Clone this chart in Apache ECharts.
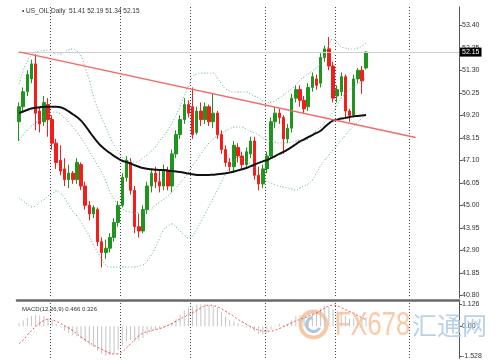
<!DOCTYPE html>
<html><head><meta charset="utf-8">
<script src="https://cdn.jsdelivr.net/npm/echarts@6/dist/echarts.min.js"></script>
<style>html,body{margin:0;padding:0;background:#fff}#c{width:500px;height:360px}</style>
</head><body><div id="c"></div>
<script>
const SLOTS = 107;
const categories = Array.from({length: SLOTS}, (_, i) => String(i));
// [open, close, low, high]
const candles = [
[48.9,49.6,48.0,49.8],[49.6,50.3,49.4,50.5],[50.3,51.1,50.1,51.3],[50.9,51.6,50.7,51.8],[51.6,49.3,48.5,52.05],
[49.4,48.8,48.4,49.6],[48.9,49.8,48.7,50.1],[49.7,49.0,48.2,50.0],[49.0,47.9,47.6,49.2],[47.9,47.0,46.7,48.1],
[47.1,46.6,46.4,47.8],[46.7,46.2,45.9,47.2],[46.2,46.5,45.8,46.9],[46.5,46.2,46.0,46.6],[46.2,47.0,46.0,47.2],
[46.9,45.9,45.7,47.0],[45.9,45.0,44.8,46.1],[45.0,44.6,44.3,45.2],[44.6,44.9,44.4,45.0],[44.8,43.3,43.1,44.9],
[43.3,42.8,42.1,43.5],[42.8,43.0,42.5,43.4],[43.0,43.5,42.8,43.7],[43.5,44.2,43.3,44.4],[44.2,45.0,44.0,45.2],
[45.0,46.3,44.9,46.5],[46.3,47.1,46.1,47.3],[47.0,45.7,45.5,47.2],[45.7,44.0,43.7,45.9],[44.0,43.8,43.5,44.6],
[43.8,44.8,43.7,45.0],[44.8,45.9,44.6,46.1],[45.9,46.5,45.6,46.7],[46.5,46.1,45.8,46.8],[46.1,45.9,45.6,46.6],
[45.9,46.6,45.7,46.9],[46.6,45.9,45.7,46.8],[45.9,47.4,45.6,47.6],[47.4,48.3,47.2,48.5],[48.3,49.0,48.1,49.2],
[49.0,49.7,48.8,50.0],[49.7,49.3,49.1,49.9],[49.6,48.3,48.1,50.5],[48.4,49.4,48.3,49.6],[49.4,49.0,48.7,49.8],
[49.0,49.6,48.8,49.8],[49.6,48.9,48.7,49.7],[48.9,49.3,48.6,50.2],[49.3,48.3,48.1,49.4],[48.3,47.6,47.4,48.5],
[47.6,47.0,46.8,47.8],[47.0,46.8,46.6,47.2],[46.8,47.8,46.5,48.0],[47.7,47.3,47.0,47.9],[47.3,46.9,46.7,47.5],
[46.9,47.5,46.7,47.7],[47.4,48.0,47.2,48.2],[48.0,46.4,46.2,48.2],[46.4,46.0,45.7,46.8],[46.0,46.7,45.8,46.9],
[46.7,47.3,46.5,47.5],[47.3,48.9,47.2,49.1],[48.9,49.3,48.6,49.6],[49.3,49.1,48.8,49.5],[49.1,48.1,47.4,49.2],
[48.1,48.6,47.9,48.8],[48.6,50.0,48.4,50.2],[50.0,50.4,49.8,50.6],[50.4,49.9,49.6,50.6],[49.9,49.5,49.3,50.1],
[49.6,50.5,49.4,50.7],[50.5,51.0,50.3,51.2],[50.9,50.6,50.4,51.1],[50.7,51.9,50.5,52.1],[51.9,52.3,51.7,52.45],
[52.3,51.5,51.3,52.85],[51.5,50.0,49.8,51.7],[50.1,50.4,49.8,50.6],[50.3,51.0,50.1,51.2],[51.0,49.4,49.1,51.1],
[49.4,49.2,48.9,49.5],[49.2,50.9,49.1,51.1],[50.9,51.3,50.7,51.4],[51.3,50.8,50.2,51.5],[51.41,52.15,51.34,52.19]
];
const ma = [49.30,49.38,49.45,49.52,49.55,49.58,49.60,49.60,49.60,49.60,49.58,49.50,49.38,49.25,49.12,48.95,48.72,48.45,48.19,47.95,
47.74,47.58,47.44,47.30,47.18,47.08,47.02,46.95,46.87,46.80,46.74,46.71,46.68,46.66,46.65,46.65,46.63,46.60,46.58,46.55,
46.52,46.48,46.45,46.42,46.41,46.41,46.42,46.43,46.45,46.47,46.50,46.53,46.58,46.63,46.68,46.74,46.82,46.90,46.98,47.05,
47.11,47.20,47.30,47.40,47.49,47.60,47.72,47.85,47.98,48.08,48.18,48.28,48.38,48.48,48.65,48.82,48.95,49.00,49.05,49.08,
49.12,49.15,49.17,49.19,49.21];
const bbUpper = [50.66,51.27,51.73,52.01,52.15,52.20,52.22,52.25,52.15,52.06,52.06,52.15,52.25,52.29,52.20,51.97,51.41,50.85,50.10,49.54,
49.07,48.65,48.19,47.81,47.53,47.25,47.11,47.07,47.02,47.07,47.21,47.35,47.53,47.72,48.00,48.23,48.51,48.84,49.21,49.63,
50.10,50.57,50.99,51.13,51.17,51.17,51.17,51.17,50.94,50.66,50.43,50.33,50.29,50.29,50.29,50.29,50.19,50.10,50.01,49.87,
49.77,49.82,49.87,50.01,50.15,50.29,50.43,50.61,50.85,50.99,51.13,51.27,51.41,51.64,52.01,52.48,52.76,52.62,52.39,52.34,
52.29,52.29,52.34,52.43,52.57];
const bbMiddle = [48.05,48.28,48.51,48.70,48.84,48.98,49.12,49.26,49.35,49.35,49.26,49.07,48.89,48.65,48.42,48.14,47.86,47.53,47.21,46.88,
46.55,46.13,45.62,45.29,45.01,44.83,44.73,44.69,44.64,44.64,44.69,44.73,44.83,45.01,45.15,45.29,45.43,45.62,45.81,46.04,
46.27,46.55,46.84,47.11,47.39,47.67,47.91,48.09,48.23,48.37,48.47,48.56,48.65,48.65,48.65,48.56,48.47,48.37,48.28,48.14,
48.05,48.00,47.95,47.91,47.91,47.91,47.95,48.00,48.05,48.05,48.09,48.33,48.51,48.65,48.89,49.12,49.35,49.68,50.01,50.19,
50.38,50.52,50.66,50.80,50.94];
const bbLower = [45.34,45.20,45.06,44.92,44.97,45.16,45.25,45.44,45.53,45.67,45.58,45.34,45.01,44.73,44.50,44.22,43.89,43.57,43.15,42.82,
42.49,42.21,42.12,42.12,42.12,42.12,42.12,42.12,42.12,42.17,42.21,42.40,42.68,43.01,43.47,43.85,44.03,44.13,43.99,43.80,
43.61,43.47,43.57,43.89,44.22,44.59,44.97,45.34,45.71,46.09,46.46,46.79,47.07,47.25,47.16,47.07,46.93,46.74,46.51,46.32,
46.13,46.04,45.95,45.90,45.85,45.81,45.76,45.71,45.81,45.90,46.00,46.18,46.51,46.84,47.11,47.35,47.58,47.81,48.05,48.28,
48.51,48.70,48.88,49.07,49.26];
const macdMain = [0.15,0.30,0.42,0.52,0.56,0.55,0.50,0.42,0.30,0.12,-0.05,-0.22,-0.35,-0.45,-0.52,-0.65,-0.80,-0.93,-1.05,-1.22,
-1.40,-1.48,-1.45,-1.35,-1.20,-0.98,-0.75,-0.70,-0.78,-0.72,-0.60,-0.42,-0.28,-0.20,-0.15,-0.05,-0.02,0.15,0.35,0.58,
0.80,0.95,1.00,1.08,1.10,1.12,1.08,1.05,0.95,0.70,0.50,0.30,0.25,0.15,0.05,-0.05,-0.10,-0.25,-0.40,-0.42,
-0.35,-0.15,0.05,0.12,0.05,0.10,0.30,0.50,0.55,0.55,0.65,0.75,0.78,0.90,1.02,1.00,0.85,0.75,0.72,0.52,
0.38,0.42,0.45,0.40,0.466];
const macdSignal = [-0.88,-0.70,-0.45,-0.22,-0.02,0.15,0.28,0.34,0.32,0.25,0.15,0.02,-0.08,-0.22,-0.38,-0.55,-0.68,-0.82,-0.95,-1.06,
-1.16,-1.27,-1.36,-1.40,-1.39,-1.28,-1.10,-0.88,-0.68,-0.48,-0.35,-0.27,-0.22,-0.17,-0.12,-0.05,0.04,0.14,0.25,0.36,
0.47,0.58,0.68,0.80,0.92,1.02,1.06,1.04,0.98,0.88,0.75,0.62,0.50,0.35,0.22,0.10,-0.02,-0.12,-0.20,-0.24,
-0.25,-0.24,-0.20,-0.12,-0.02,0.08,0.18,0.27,0.34,0.42,0.50,0.58,0.66,0.78,0.92,1.02,1.06,1.03,0.94,0.84,
0.74,0.63,0.53,0.43,0.326];
const priceTicks = [53.40,52.35,51.30,50.25,49.20,48.15,47.10,46.05,45.00,43.95,42.90,41.85,40.80];
const macdTicks = [1.126, 0, -1.528];
const gridLineSlots = [8, 25, 42, 60, 77, 95];
const trendline = [[0, 52.16], [96, 48.16]];
const lastPrice = 52.15;
const titleText = 'US_OIL,Daily  51.41 52.19 51.34 52.15';
const macdText = 'MACD(12,26,9) 0.466 0.326';

const FONT = 'Liberation Sans';
const chart = echarts.init(document.getElementById('c'), null, {renderer: 'canvas'});
const vGrid = {show: true, interval: (i) => gridLineSlots.includes(i), lineStyle: {color: '#444', type: [1, 2], width: 1}};
const bandLine = (data) => ({type: 'line', xAxisIndex: 0, yAxisIndex: 0, data, symbol: 'none', smooth: true, z: 3,
  lineStyle: {color: '#5fae92', width: 1, type: [1, 2]}});

chart.setOption({
  animation: false,
  backgroundColor: '#fff',
  title: [
    {text: '\u2022 ' + titleText, left: 17, top: 3, textStyle: {fontSize: 6.5, fontWeight: 'normal', color: '#333', fontFamily: FONT}},
    {text: macdText, left: 17, top: 301, textStyle: {fontSize: 6, fontWeight: 'normal', color: '#333', fontFamily: FONT}}
  ],
  grid: [
    {left: 17, right: 41, top: 7, height: 291},
    {left: 17, right: 41, top: 300, height: 60}
  ],
  xAxis: [
    {gridIndex: 0, type: 'category', data: categories, boundaryGap: true,
     axisLine: {show: false}, axisTick: {show: false}, axisLabel: {show: false}, splitLine: vGrid},
    {gridIndex: 1, type: 'category', data: categories, boundaryGap: true, position: 'top',
     axisLine: {show: true, onZero: false, lineStyle: {color: '#6a6a6a', width: 2.5}},
     axisTick: {show: false}, axisLabel: {show: false}, splitLine: vGrid}
  ],
  yAxis: [
    {gridIndex: 0, type: 'value', position: 'right', min: 40.675, max: 54.254,
     axisLine: {show: true, lineStyle: {color: '#555', width: 1}},
     axisTick: {show: true, customValues: priceTicks, length: 3, lineStyle: {color: '#555'}},
     axisLabel: {customValues: priceTicks, formatter: (v) => v.toFixed(2), fontSize: 7, color: '#333', margin: 3, fontFamily: FONT},
     splitLine: {show: false}},
    {gridIndex: 1, type: 'value', position: 'right', min: -1.626, max: 1.323,
     axisLine: {show: true, lineStyle: {color: '#555', width: 1}},
     axisTick: {show: true, customValues: macdTicks, length: 3, lineStyle: {color: '#555'}},
     axisLabel: {customValues: macdTicks, formatter: (v) => (v === 0 ? '0.00' : v.toFixed(3)), fontSize: 7, color: '#333', margin: 3, fontFamily: FONT},
     splitLine: {show: false}}
  ],
  series: [
    {type: 'candlestick', xAxisIndex: 0, yAxisIndex: 0, data: candles, barWidth: 3, z: 2,
     itemStyle: {color: '#1f951f', color0: '#f51c1c', borderColor: '#1f951f', borderColor0: '#f51c1c', borderWidth: 1},
     markLine: {silent: true, symbol: 'none', animation: false, data: [{yAxis: lastPrice}],
       lineStyle: {color: '#cfcfcf', type: 'solid', width: 1},
       label: {show: true, position: 'end', formatter: lastPrice.toFixed(2), color: '#fff', backgroundColor: '#000',
         fontSize: 7, padding: [1, 2, 1, 2], distance: 1, fontFamily: FONT}}},
    bandLine(bbUpper),
    bandLine(bbMiddle),
    bandLine(bbLower),
    {type: 'line', xAxisIndex: 0, yAxisIndex: 0, data: ma, symbol: 'none', smooth: true, z: 4,
     lineStyle: {color: '#111', width: 2}},
    {type: 'line', xAxisIndex: 0, yAxisIndex: 0, data: trendline, symbol: 'none', z: 5,
     lineStyle: {color: '#f26a6a', width: 1.5}},
    {type: 'bar', xAxisIndex: 1, yAxisIndex: 1, data: macdMain, barWidth: 1, z: 2,
     itemStyle: {color: '#c4c4c4'}},
    {type: 'line', xAxisIndex: 1, yAxisIndex: 1, data: macdSignal, symbol: 'none', smooth: true, z: 3,
     lineStyle: {color: '#e84a4a', width: 1, type: [2, 2]}}
  ],
  graphic: [
    {type: 'group', left: 298, top: 309, z: 100, children: [
      {type: 'circle', shape: {cx: 16, cy: 16, r: 13}, style: {fill: 'none', stroke: '#f9c9a4', lineWidth: 4}},
      {type: 'arc', shape: {cx: 16, cy: 16, r: 7, startAngle: 0.5, endAngle: 4.5}, style: {fill: 'none', stroke: '#a9c6e6', lineWidth: 3}}
    ]},
    {type: 'text', left: 335, top: 309, z: 100, scaleX: 0.75,
     style: {text: 'FX678', fontSize: 34, fontFamily: FONT, fill: '#f9bf98', opacity: 0.85}},
    {type: 'text', left: 412, top: 313, z: 100,
     style: {text: '汇通网', fontSize: 25, fontFamily: 'Noto Sans CJK SC', fill: '#abc9e8', opacity: 0.85}}
  ]
});
</script></body></html>
